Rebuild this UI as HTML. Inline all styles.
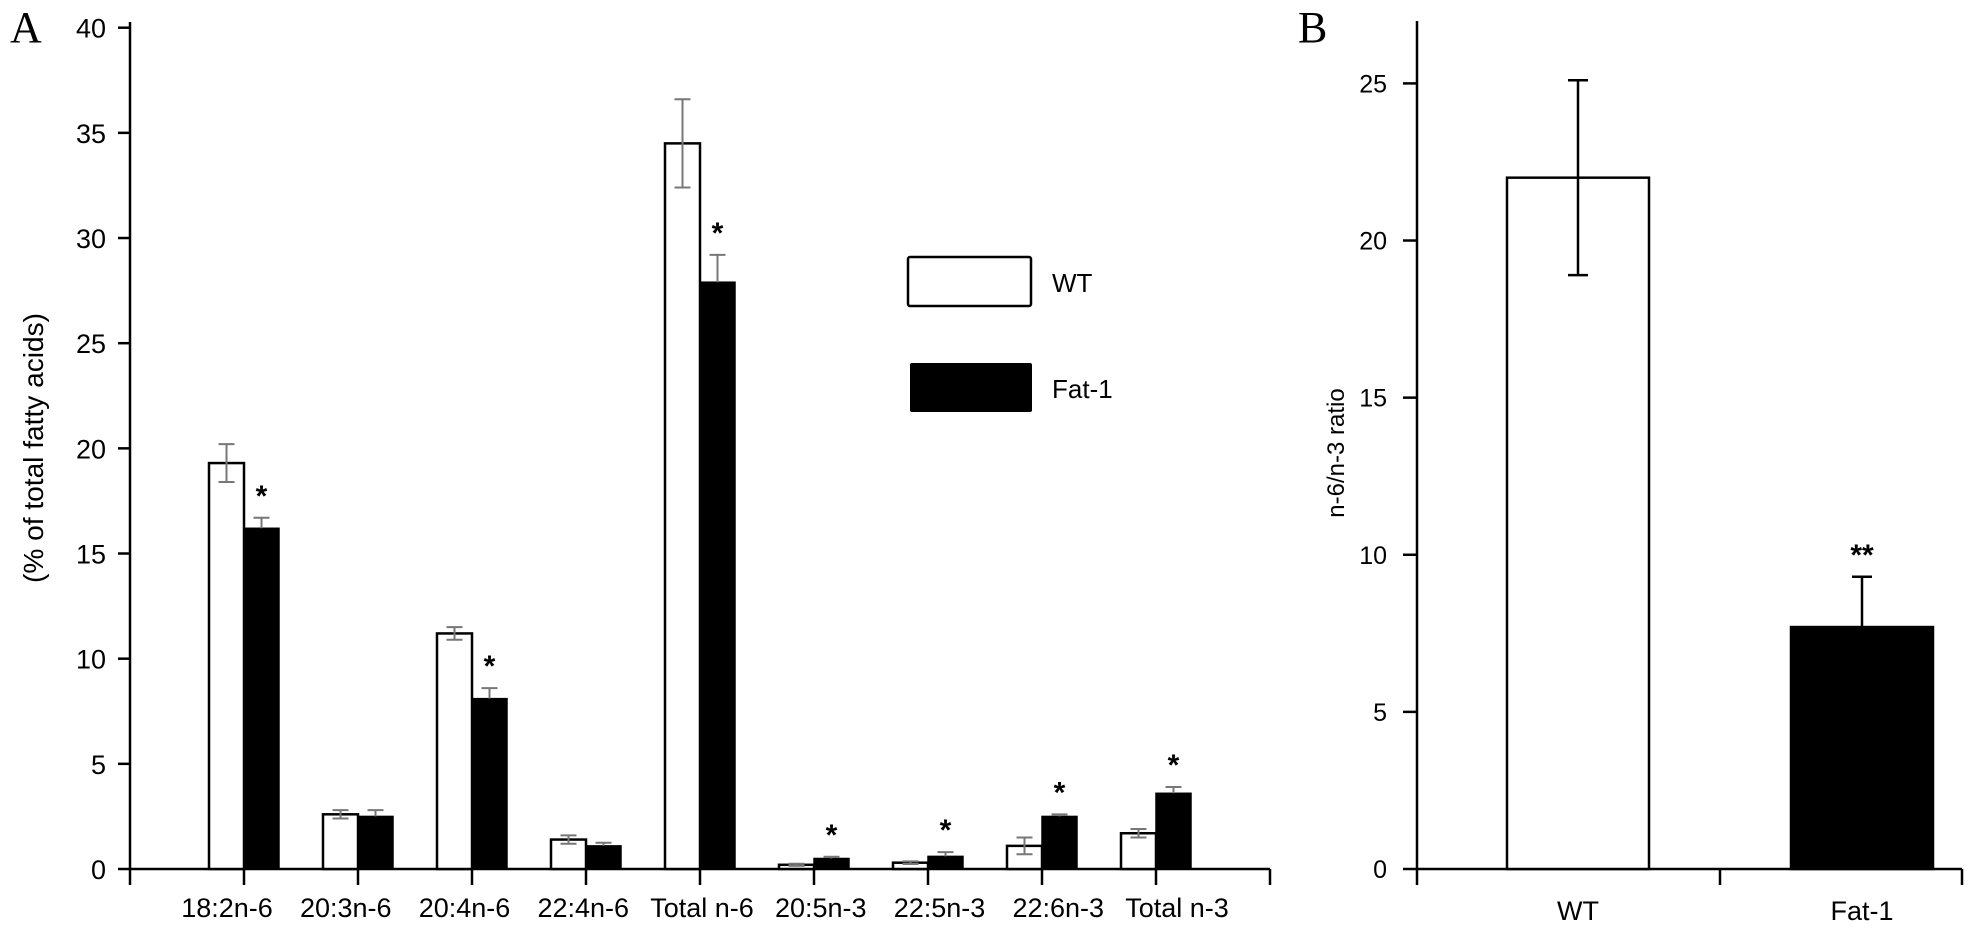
<!DOCTYPE html>
<html><head><meta charset="utf-8"><style>
html,body{margin:0;padding:0;background:#fff;}
svg{display:block;}
text{font-family:"Liberation Sans",sans-serif;fill:#000;}
</style></head><body>
<svg id="chart" width="1975" height="930" viewBox="0 0 1975 930" xmlns="http://www.w3.org/2000/svg">
<text x="10" y="42" font-size="44" style="font-family:'Liberation Serif',serif">A</text>
<text x="1298" y="42" font-size="44" style="font-family:'Liberation Serif',serif">B</text>
<text transform="translate(43,448) rotate(-90)" text-anchor="middle" font-size="28" textLength="270" lengthAdjust="spacingAndGlyphs">(% of total fatty acids)</text>
<text transform="translate(1344,453) rotate(-90)" text-anchor="middle" font-size="24">n-6/n-3 ratio</text>
<g id="a"></g><g id="b"></g>
<g>
<rect x="908" y="257" width="123" height="49" fill="#fff" stroke="#000" stroke-width="2.5" rx="2"/>
<text x="1052" y="292" font-size="26">WT</text>
<rect x="910" y="363" width="122" height="49" fill="#000" rx="2"/>
<text x="1052" y="398" font-size="26">Fat-1</text>
</g>
</svg>
<script>
const catsA = ["18:2n-6","20:3n-6","20:4n-6","22:4n-6","Total n-6","20:5n-3","22:5n-3","22:6n-3","Total n-3"];
const wtA = [19.3,2.6,11.2,1.4,34.5,0.2,0.3,1.1,1.7];
const wtErrA = [0.9,0.2,0.3,0.2,2.1,0.05,0.06,0.4,0.2];
const fatA = [16.2,2.5,8.1,1.1,27.9,0.5,0.6,2.5,3.6];
const fatErrA = [0.5,0.3,0.5,0.15,1.3,0.08,0.2,0.1,0.3];
const sigA = [true,false,true,false,true,true,true,true,true];
const ticksA = [0,5,10,15,20,25,30,35,40];
const catsB = ["WT","Fat-1"];
const valsB = [22,7.7];
const errB = [3.1,1.6];
const sigB = ["","**"];
const ticksB = [0,5,10,15,20,25];

const NS="http://www.w3.org/2000/svg";
function mk(parent,tag,attrs){const e=document.createElementNS(NS,tag);for(const k in attrs)e.setAttribute(k,attrs[k]);parent.appendChild(e);return e;}

// Panel A
const ga=document.getElementById('a');
const ax0=130, ay0=869, ayTop=27.7, aStep=114, bw=35;
const yA=v=>ay0-(v/40)*(ay0-ayTop);
const xA=i=>ax0+(i+1)*aStep;
const xLabA=i=>227+i*118.75;
let l=mk(ga,'line',{x1:ax0,y1:22,x2:ax0,y2:ay0,stroke:'#000','stroke-width':2.5});


l=mk(ga,'line',{x1:ax0,y1:ay0,x2:1270,y2:ay0,stroke:'#000','stroke-width':2.5});


ticksA.forEach(t=>{
  const y=yA(t);
  const tk=mk(ga,'line',{x1:ax0-12,y1:y,x2:ax0,y2:y,stroke:'#000','stroke-width':2.5});
  
  
  const tx=mk(ga,'text',{x:106,y:y+10,'text-anchor':'end','font-size':27});
  tx.textContent=t;
  
  
});
const xt=[ax0];
catsA.forEach((c,i)=>xt.push(xA(i)));
xt.push(1270);
xt.forEach(x=>{
  const tk=mk(ga,'line',{x1:x,y1:ay0,x2:x,y2:ay0+16,stroke:'#000','stroke-width':2.5});
  
  
});
catsA.forEach((c,i)=>{
  const cx=xA(i);
  const r1=mk(ga,'rect',{x:cx-bw,y:yA(wtA[i]),width:bw,height:ay0-yA(wtA[i]),fill:'#fff',stroke:'#000','stroke-width':2.5});
  
  
  const r2=mk(ga,'rect',{x:cx,y:yA(fatA[i]),width:bw,height:ay0-yA(fatA[i]),fill:'#000',stroke:'#000','stroke-width':1.5});
  
  
  const wx=cx-bw/2, fx=cx+bw/2;
  const e1=mk(ga,'path',{d:`M${wx},${yA(wtA[i]+wtErrA[i])}V${yA(wtA[i]-wtErrA[i])}M${wx-8},${yA(wtA[i]+wtErrA[i])}h16M${wx-8},${yA(wtA[i]-wtErrA[i])}h16`,stroke:'#777','stroke-width':2,fill:'none'});
  
  
  const e2=mk(ga,'path',{d:`M${fx},${yA(fatA[i]+fatErrA[i])}V${yA(fatA[i])}M${fx-8},${yA(fatA[i]+fatErrA[i])}h16`,stroke:'#777','stroke-width':2,fill:'none'});
  
  
  if(sigA[i]){
    const s=mk(ga,'text',{x:fx,y:yA(fatA[i]+fatErrA[i])-12,'text-anchor':'middle','font-size':30,'font-weight':'bold'});
    s.textContent='*';
    
    
  }
  const lb=mk(ga,'text',{x:xLabA(i),y:917,'text-anchor':'middle','font-size':27});
  lb.textContent=c;
  
  
});

// Panel B
const gb=document.getElementById('b');
const bx0=1417, bx1=1962, by0=869, by25=83.4, bbw=142;
const yB=v=>by0-(v/25)*(by0-by25);
const xB=i=>1578+i*(1862-1578);
l=mk(gb,'line',{x1:bx0,y1:21,x2:bx0,y2:by0,stroke:'#000','stroke-width':2.5});


l=mk(gb,'line',{x1:bx0,y1:by0,x2:bx1,y2:by0,stroke:'#000','stroke-width':2.5});


ticksB.forEach(t=>{
  const y=yB(t);
  const tk=mk(gb,'line',{x1:bx0-14,y1:y,x2:bx0,y2:y,stroke:'#000','stroke-width':2.5});
  
  
  const tx=mk(gb,'text',{x:1387,y:y+9,'text-anchor':'end','font-size':25});
  tx.textContent=t;
  
  
});
[bx0,1720,bx1].forEach(x=>{
  const tk=mk(gb,'line',{x1:x,y1:by0,x2:x,y2:by0+16,stroke:'#000','stroke-width':2.5});
  
  
});
catsB.forEach((c,i)=>{
  const cx=xB(i);
  const r=mk(gb,'rect',{x:cx-bbw/2,y:yB(valsB[i]),width:bbw,height:by0-yB(valsB[i]),fill:i===0?'#fff':'#000',stroke:'#000','stroke-width':2.5});
  
  
  const lo=i===0?valsB[i]-errB[i]:valsB[i];
  const e=mk(gb,'path',{d:`M${cx},${yB(valsB[i]+errB[i])}V${yB(lo)}M${cx-10},${yB(valsB[i]+errB[i])}h20`+(i===0?`M${cx-10},${yB(lo)}h20`:''),stroke:'#000','stroke-width':2.5,fill:'none'});
  
  
  if(sigB[i]){
    const s=mk(gb,'text',{x:cx,y:yB(valsB[i]+errB[i])-12,'text-anchor':'middle','font-size':30,'font-weight':'bold'});
    s.textContent=sigB[i];
    
    
  }
  const lb=mk(gb,'text',{x:cx,y:920,'text-anchor':'middle','font-size':27});
  lb.textContent=c;
  
  
});
</script>
</body></html>
